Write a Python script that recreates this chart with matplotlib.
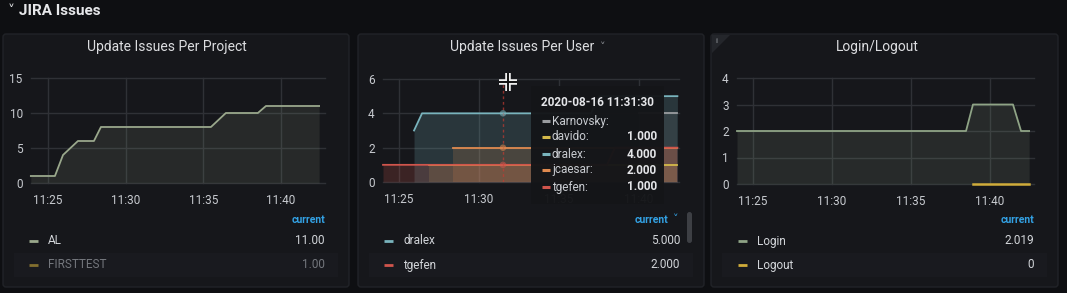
import matplotlib
matplotlib.use('Agg')
import matplotlib.pyplot as plt
from matplotlib.patches import FancyBboxPatch, Rectangle, Polygon

plt.rcParams['font.family'] = ['Roboto', 'DejaVu Sans']

# ---------------- data (time in minutes after 11:00) ----------------
time_ticks = [25, 30, 35, 40]
time_labels = ['11:25', '11:30', '11:35', '11:40']

# Panel 1: Update Issues Per Project
al_t = [23.9, 25.45, 25.97, 26.93, 27.96, 28.41, 35.49, 36.45, 38.51, 39.03, 42.45]
al_v = [1, 1, 4, 6, 6, 8, 8, 10, 10, 11, 11]
proj_yticks = [0, 5, 10, 15]
proj_legend = ['AL', 'FIRSTTEST']
proj_current = ['11.00', '1.00']

# Panel 2: Update Issues Per User
karn_t = [40.0, 42.4]
karn_v = [4, 4]
davido_t = [26.9, 42.4]
davido_v = [1, 1]
dralex_t = [25.94, 26.44, 37.0, 37.5, 42.4]
dralex_v = [3, 4, 4, 5, 5]
jcaesar_t = [28.4, 42.4]
jcaesar_v = [2, 2]
tgefen_t = [24.0, 38.0, 38.5, 42.4]
tgefen_v = [1, 1, 2, 2]
user_yticks = [0, 2, 4, 6]
hover_t = 31.5
tooltip_time = '2020-08-16 11:31:30'
tooltip_names = ['Karnovsky:', 'davido:', 'dralex:', 'jcaesar:', 'tgefen:']
tooltip_vals = ['', '1.000', '4.000', '2.000', '1.000']
user_legend = ['dralex', 'tgefen']
user_current = ['5.000', '2.000']

# Panel 3: Login/Logout
login_t = [23.99, 38.48, 38.92, 41.45, 41.96, 42.47]
login_v = [2, 2, 3, 3, 2, 2]
logout_t = [38.92, 42.47]
logout_v = [0, 0]
login_yticks = [0, 1, 2, 3, 4]
login_legend = ['Login', 'Logout']
login_current = ['2.019', '0']

# ---------------- style ----------------
PAGE = '#0e0f12'
PANEL = '#16171b'
PANEL_EDGE = '#212328'
GRID = '#2f3136'
TICK = '#c8cbd0'
TITLE = '#dcdde0'
LEG = '#d2d5d9'
DIM = '#74777d'
BLUE = '#33a2e5'

C_AL = '#9aa88c'
C_FT = '#c9a83a'
C_KARN = '#9a9c9f'
C_DAV = '#d4b94a'
C_DRA = '#79b4bd'
C_JC = '#e08a4f'
C_TG = '#d0554c'
C_LOGIN = '#8fa486'
C_LOGOUT = '#d0ac3a'

W, H = 1067, 293
fig = plt.figure(figsize=(W / 100, H / 100), dpi=100)
fig.patch.set_facecolor(PAGE)


def px_axes(x0, y0, x1, y1, z=1):
    return fig.add_axes([x0 / W, 1 - y1 / H, (x1 - x0) / W, (y1 - y0) / H], zorder=z)


bg = px_axes(0, 0, W, H, z=0)
bg.set_xlim(0, W)
bg.set_ylim(H, 0)
bg.axis('off')

ov = px_axes(0, 0, W, H, z=5)
ov.set_xlim(0, W)
ov.set_ylim(H, 0)
ov.axis('off')
ov.patch.set_alpha(0)

# header
bg.text(8, 11, '˅', color=TITLE, fontsize=10, va='center', ha='left', family=['DejaVu Sans'])
bg.text(19, 11, 'JIRA Issues', color='#e6e7ea', fontsize=11, fontweight='bold', va='center', ha='left')

panels = [(3, 34, 349, 287), (358, 34, 704, 287), (711, 34, 1058, 287)]
for (x0, y0, x1, y1) in panels:
    bg.add_patch(FancyBboxPatch((x0, y0), x1 - x0, y1 - y0,
                                boxstyle='round,pad=0,rounding_size=3',
                                facecolor=PANEL, edgecolor=PANEL_EDGE, lw=1))
    bg.add_patch(Rectangle((x0 + 11, 253), x1 - x0 - 22, 24, facecolor='#191a1f', edgecolor='none'))

bg.text(167, 47, 'Update Issues Per Project', color=TITLE, fontsize=10, ha='center', va='center')
bg.text(522, 47, 'Update Issues Per User', color=TITLE, fontsize=10, ha='center', va='center')
bg.text(603, 47, '˅', color='#8a8d93', fontsize=8, ha='center', va='center', family=['DejaVu Sans'])
bg.text(877, 47, 'Login/Logout', color=TITLE, fontsize=10, ha='center', va='center')
bg.add_patch(Polygon([(712, 35), (730, 35), (712, 53)], closed=True, facecolor='#24262b', edgecolor='none'))
bg.text(716, 41, 'i', color='#9ea1a6', fontsize=6, ha='center', va='center')


def style(ax, xlim, ylim, yticks):
    ax.set_facecolor('none')
    ax.set_xlim(xlim)
    ax.set_ylim(ylim)
    ax.set_xticks(time_ticks)
    ax.set_xticklabels(time_labels)
    ax.set_yticks(yticks)
    ax.grid(True, color=GRID, lw=1)
    for ln in ax.get_xgridlines() + ax.get_ygridlines():
        ln.set_clip_on(False)
    ax.set_axisbelow(True)
    for s in ax.spines.values():
        s.set_visible(False)
    ax.tick_params(axis='x', length=0, colors=TICK, labelsize=8.5, pad=8)
    ax.tick_params(axis='y', length=0, colors=TICK, labelsize=8.5, pad=6)


def series(ax, t, v, color, alpha=0.12, lw=1.3, z=2):
    ax.fill_between(t, v, 0, color=color, alpha=alpha, lw=0, zorder=z)
    ax.plot(t, v, color=color, lw=lw, zorder=z + 0.5, clip_on=False)


# ---------------- panel 1 ----------------
ax1 = px_axes(31, 78, 325, 183)
style(ax1, (23.91, 42.83), (0, 15), proj_yticks)
series(ax1, al_t, al_v, C_AL, alpha=0.13)

# ---------------- panel 2 ----------------
ax2 = px_axes(383, 79, 679, 182)
style(ax2, (24.0, 42.5), (0, 6), user_yticks)
series(ax2, karn_t, karn_v, C_KARN, alpha=0.10)
series(ax2, davido_t, davido_v, C_DAV, alpha=0.16)
series(ax2, dralex_t, dralex_v, C_DRA, alpha=0.2)
series(ax2, jcaesar_t, jcaesar_v, C_JC, alpha=0.18)
series(ax2, tgefen_t, tgefen_v, C_TG, alpha=0.2)
ax2.axvline(hover_t, color='#c23b32', lw=1, ls=(0, (2, 2)), alpha=0.7, zorder=4)
ax2.scatter([hover_t] * 3, [dralex_v[2], jcaesar_v[0], tgefen_v[0]],
            s=22, c=[C_DRA, C_JC, C_TG], alpha=0.55, zorder=5, edgecolors='none')

# ---------------- panel 3 ----------------
ax3 = px_axes(737, 78, 1034, 184)
style(ax3, (23.99, 42.78), (0, 4), login_yticks)
series(ax3, login_t, login_v, C_LOGIN, alpha=0.14)
series(ax3, logout_t, logout_v, C_LOGOUT, alpha=0.2, lw=1.8, z=3)

# ---------------- legends ----------------
def legend(xl, xr, names, vals, colors, dims, chevron=False):
    ov.text(xr - (12 if chevron else 0), 220, 'current', color=BLUE, fontsize=7.5,
            fontweight='bold', ha='right', va='center')
    if chevron:
        ov.text(xr - 4, 219, '˅', color=BLUE, fontsize=8, ha='center', va='center',
                family=['DejaVu Sans'])
    for i, (n, v, c, d) in enumerate(zip(names, vals, colors, dims)):
        y = 241 + 24 * i
        ov.plot([xl, xl + 9], [y, y], color=c, lw=2, solid_capstyle='butt', alpha=0.6 if d else 1)
        tc = DIM if d else LEG
        ov.text(xl + 19, y, n, color=tc, fontsize=8.5, ha='left', va='center')
        ov.text(xr, y, v, color=tc, fontsize=8.5, ha='right', va='center')


legend(29, 325, proj_legend, proj_current, [C_AL, C_FT], [False, True])
legend(384, 680, user_legend, user_current, [C_DRA, C_TG], [False, False], chevron=True)
legend(738, 1034, login_legend, login_current, [C_LOGIN, C_LOGOUT], [False, False])

ov.add_patch(FancyBboxPatch((687, 212), 5, 31, boxstyle='round,pad=0,rounding_size=2.5',
                            facecolor='#3d3f44', edgecolor='none'))

# ---------------- tooltip ----------------
ov.add_patch(Rectangle((531, 86), 133, 118, facecolor='#141518', edgecolor='none', alpha=0.97))
ov.text(541, 102, tooltip_time, color='#e4e5e8', fontsize=8.5, fontweight='bold',
        ha='left', va='center')
tip_colors = [C_KARN, C_DAV, C_DRA, C_JC, C_TG]
tip_y = [121, 137, 154, 170, 187]
for n, v, c, y in zip(tooltip_names, tooltip_vals, tip_colors, tip_y):
    ov.plot([542, 550], [y, y], color=c, lw=2.2, solid_capstyle='butt')
    ov.text(552, y, n, color='#c9ccd1', fontsize=8.5, ha='left', va='center')
    if v:
        ov.text(657, y, v, color='#e4e5e8', fontsize=8.5, fontweight='bold', ha='right', va='center')

# mouse cursor (crosshair)
cx, cy = 508, 82
for lw, col in [(4, '#f0f0f0'), (1.4, '#111111')]:
    ov.plot([cx - 9, cx + 9], [cy, cy], color=col, lw=lw, solid_capstyle='butt')
    ov.plot([cx, cx], [cy - 9, cy + 9], color=col, lw=lw, solid_capstyle='butt')

fig.savefig('out.png', dpi=100, facecolor=fig.get_facecolor())
